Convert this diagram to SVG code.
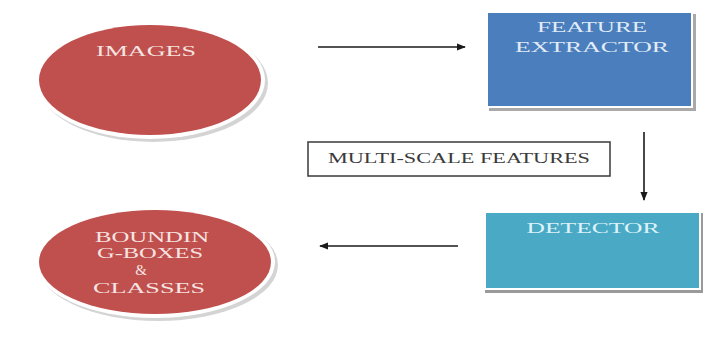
<svg xmlns="http://www.w3.org/2000/svg" width="705" height="338" viewBox="0 0 705 338">
<defs>
<style>
.t{font-family:"Liberation Serif","Times New Roman",serif;font-size:15px;text-anchor:middle}
.red{fill:#c0504d}
.rim{fill:#ffffff}
.sh{fill:#b8b8b8}
.wt{fill:#f6e4e2}
.bt{fill:#e2ecf6}
.ct{fill:#def3f9}
.ln{stroke:#1a1a1a;stroke-width:1.6;fill:none}
</style>
<marker id="ah" viewBox="0 0 10 10" refX="9" refY="5" markerWidth="9" markerHeight="9" markerUnits="userSpaceOnUse" orient="auto">
<path d="M0,1 L10,5 L0,9 Z" fill="#1a1a1a"/>
</marker>
</defs>
<rect width="705" height="338" fill="#ffffff"/>
<g id="images">
<ellipse cx="153" cy="83" rx="115" ry="59" class="sh" opacity="0.6"/>
<ellipse cx="150" cy="80" rx="115" ry="59" class="rim"/>
<ellipse cx="150" cy="80" rx="111" ry="55" class="red"/>
<text x="146" y="56" class="t wt" textLength="100" lengthAdjust="spacingAndGlyphs">IMAGES</text>
</g>
<g id="feature-extractor">
<rect x="489" y="14" width="207" height="97" fill="#a9a9a9"/>
<rect x="486" y="11" width="207" height="97" fill="#ffffff"/>
<rect x="488" y="13" width="203" height="93" fill="#4a7ebd"/>
<text x="592" y="32" class="t bt" textLength="110" lengthAdjust="spacingAndGlyphs">FEATURE</text>
<text x="592" y="52" class="t bt" textLength="154" lengthAdjust="spacingAndGlyphs">EXTRACTOR</text>
</g>
<g id="multi-scale-features">
<rect x="308" y="142" width="302" height="34" fill="#ffffff" stroke="#3a3a3a" stroke-width="1.5"/>
<text x="459" y="163" class="t" fill="#3a3a3a" textLength="262" lengthAdjust="spacingAndGlyphs">MULTI-SCALE FEATURES</text>
</g>
<g id="detector">
<rect x="485" y="213" width="218" height="80" fill="#9a9a9a"/>
<rect x="483" y="210" width="218" height="80" fill="#ffffff"/>
<rect x="486" y="213" width="213" height="75" fill="#4aaac6"/>
<text x="593" y="233" class="t ct" textLength="133" lengthAdjust="spacingAndGlyphs">DETECTOR</text>
</g>
<g id="bounding-boxes">
<ellipse cx="158" cy="265" rx="120" ry="56" class="sh" opacity="0.6"/>
<ellipse cx="155" cy="262" rx="120" ry="56" class="rim"/>
<ellipse cx="155" cy="262" rx="116" ry="52" class="red"/>
<text x="152" y="242" class="t wt" textLength="114" lengthAdjust="spacingAndGlyphs">BOUNDIN</text>
<text x="150" y="258" class="t wt" textLength="106" lengthAdjust="spacingAndGlyphs">G-BOXES</text>
<text x="141" y="275" class="t wt">&amp;</text>
<text x="149" y="293" class="t wt" textLength="112" lengthAdjust="spacingAndGlyphs">CLASSES</text>
</g>
<g id="connectors">
<line x1="318" y1="47" x2="465" y2="47" class="ln" marker-end="url(#ah)"/>
<line x1="644" y1="132" x2="644" y2="200" class="ln" marker-end="url(#ah)"/>
<line x1="458" y1="246" x2="320" y2="246" class="ln" marker-end="url(#ah)"/>
</g>
</svg>
